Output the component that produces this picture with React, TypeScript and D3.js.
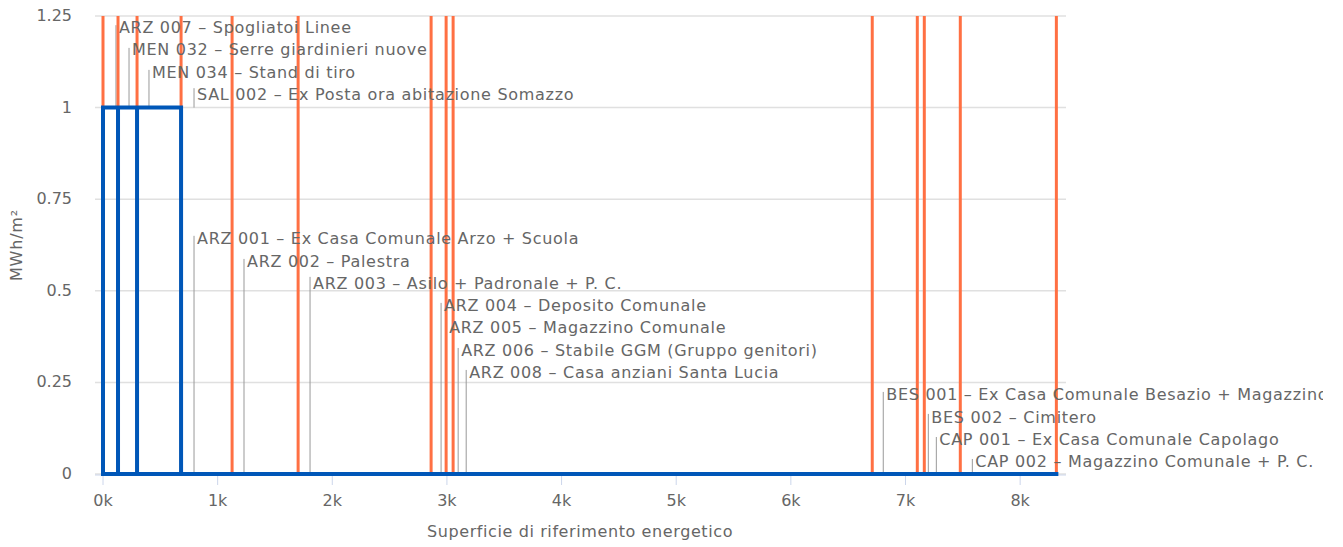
import React from 'react';
import * as d3 from 'd3';

// ---- data ----
const xTicks = [0, 1000, 2000, 3000, 4000, 5000, 6000, 7000, 8000];
const yTicks = [0, 0.25, 0.5, 0.75, 1, 1.25];

// cumulative area boundaries (orange reference lines)
const orangeX = [0, 131, 297, 681, 1126, 1702, 2862, 2993, 3054, 6710, 7103, 7164, 7478, 8316];

// blue variwide outline: segment start, end, value
const blueStart = [0, 131, 297, 681];
const blueEnd = [131, 297, 681, 8316];
const blueValue = [1, 1, 1, 0];

// labelled buildings
const labelNames = [
  'ARZ 007 – Spogliatoi Linee',
  'MEN 032 – Serre giardinieri nuove',
  'MEN 034 – Stand di tiro',
  'SAL 002 – Ex Posta ora abitazione Somazzo',
  'ARZ 001 – Ex Casa Comunale Arzo + Scuola',
  'ARZ 002 – Palestra',
  'ARZ 003 – Asilo + Padronale + P. C.',
  'ARZ 004 – Deposito Comunale',
  'ARZ 005 – Magazzino Comunale',
  'ARZ 006 – Stabile GGM (Gruppo genitori)',
  'ARZ 008 – Casa anziani Santa Lucia',
  'BES 001 – Ex Casa Comunale Besazio + Magazzino',
  'BES 002 – Cimitero',
  'CAP 001 – Ex Casa Comunale Capolago',
  'CAP 002 – Magazzino Comunale + P. C.',
];
const labelX = [113, 227, 401, 794, 794, 1230, 1806, 2949, 2993, 3098, 3168, 6806, 7199, 7269, 7583];
const labelTextY = [1.22, 1.16, 1.097, 1.037, 0.644, 0.581, 0.521, 0.461, 0.401, 0.338, 0.278, 0.218, 0.156, 0.096, 0.035];
const leaderTopY = [1.225, 1.163, 1.103, 1.053, 0.65, 0.587, 0.538, 0.467, 0.407, 0.344, 0.284, 0.224, 0.164, 0.101, 0.041];
const pointY = [1, 1, 1, 1, 0, 0, 0, 0, 0, 0, 0, 0, 0, 0, 0];

const W = 1323;
const H = 547;
const plotLeft = 95;
const plotRight = 1066;
const font = "'DejaVu Sans', sans-serif";

export default function App() {
  const x = d3.scaleLinear().domain([0, 8400]).range([103, plotRight]);
  const y = d3.scaleLinear().domain([0, 1.25]).range([474, 16]);

  let bluePath = '';
  blueStart.forEach((s, i) => {
    const v = blueValue[i];
    if (v !== 0) {
      bluePath += `M${x(s)},${y(0)}L${x(s)},${y(v)}L${x(blueEnd[i])},${y(v)}L${x(blueEnd[i])},${y(0)}Z`;
    }
  });
  bluePath += `M${x(blueStart[0])},${y(0)}L${x(blueEnd[blueEnd.length - 1])},${y(0)}`;

  return (
    <svg
      width={W}
      height={H}
      style={{ position: 'absolute', left: 0, top: 0, fontFamily: font }}
    >
      <rect x={0} y={0} width={W} height={H} fill="#fff" />
      {/* grid */}
      {yTicks.map((t) => (
        <line key={'g' + t} x1={plotLeft} x2={plotRight} y1={y(t)} y2={y(t)} stroke="#e0e0e0" strokeWidth={1.5} />
      ))}
      {/* y tick labels */}
      {yTicks.map((t) => (
        <text key={'yl' + t} x={72} y={y(t) + 5} textAnchor="end" fontSize={16} fill="#666">
          {d3.format('~g')(t)}
        </text>
      ))}
      {/* x axis */}
      <line x1={plotLeft} x2={plotRight} y1={y(0) + 1} y2={y(0) + 1} stroke="#ccd6eb" strokeWidth={1} />
      {xTicks.map((t) => (
        <g key={'xt' + t}>
          <line x1={x(t)} x2={x(t)} y1={y(0)} y2={y(0) + 11} stroke="#ccd6eb" strokeWidth={1} />
          <text x={x(t)} y={506} textAnchor="middle" fontSize={16} fill="#666">
            {t / 1000 + 'k'}
          </text>
        </g>
      ))}
      {/* leader lines */}
      {labelNames.map((n, i) => (
        <line
          key={'ld' + i}
          x1={x(labelX[i])}
          x2={x(labelX[i])}
          y1={y(leaderTopY[i])}
          y2={y(pointY[i])}
          stroke="#999"
          strokeWidth={1}
        />
      ))}
      {/* orange lines */}
      {orangeX.map((v, i) => (
        <line key={'o' + i} x1={x(v)} x2={x(v)} y1={y(0)} y2={y(1.25)} stroke="#ff7043" strokeWidth={3} />
      ))}
      {/* blue outline */}
      <path d={bluePath} fill="none" stroke="#0057b8" strokeWidth={4} strokeLinejoin="miter" strokeLinecap="square" />
      {/* labels */}
      {labelNames.map((n, i) => (
        <text
          key={'lt' + i}
          x={x(labelX[i]) + 3}
          y={y(labelTextY[i]) + 6}
          fontSize={16}
          letterSpacing={0.7}
          fill="#666"
        >
          {n}
        </text>
      ))}
      {/* axis titles */}
      <text x={580} y={537} textAnchor="middle" fontSize={16} letterSpacing={0.6} fill="#666">
        Superficie di riferimento energetico
      </text>
      <text transform={`translate(22,245) rotate(-90)`} textAnchor="middle" fontSize={16} letterSpacing={0.8} fill="#666">
        MWh/m²
      </text>
    </svg>
  );
}
